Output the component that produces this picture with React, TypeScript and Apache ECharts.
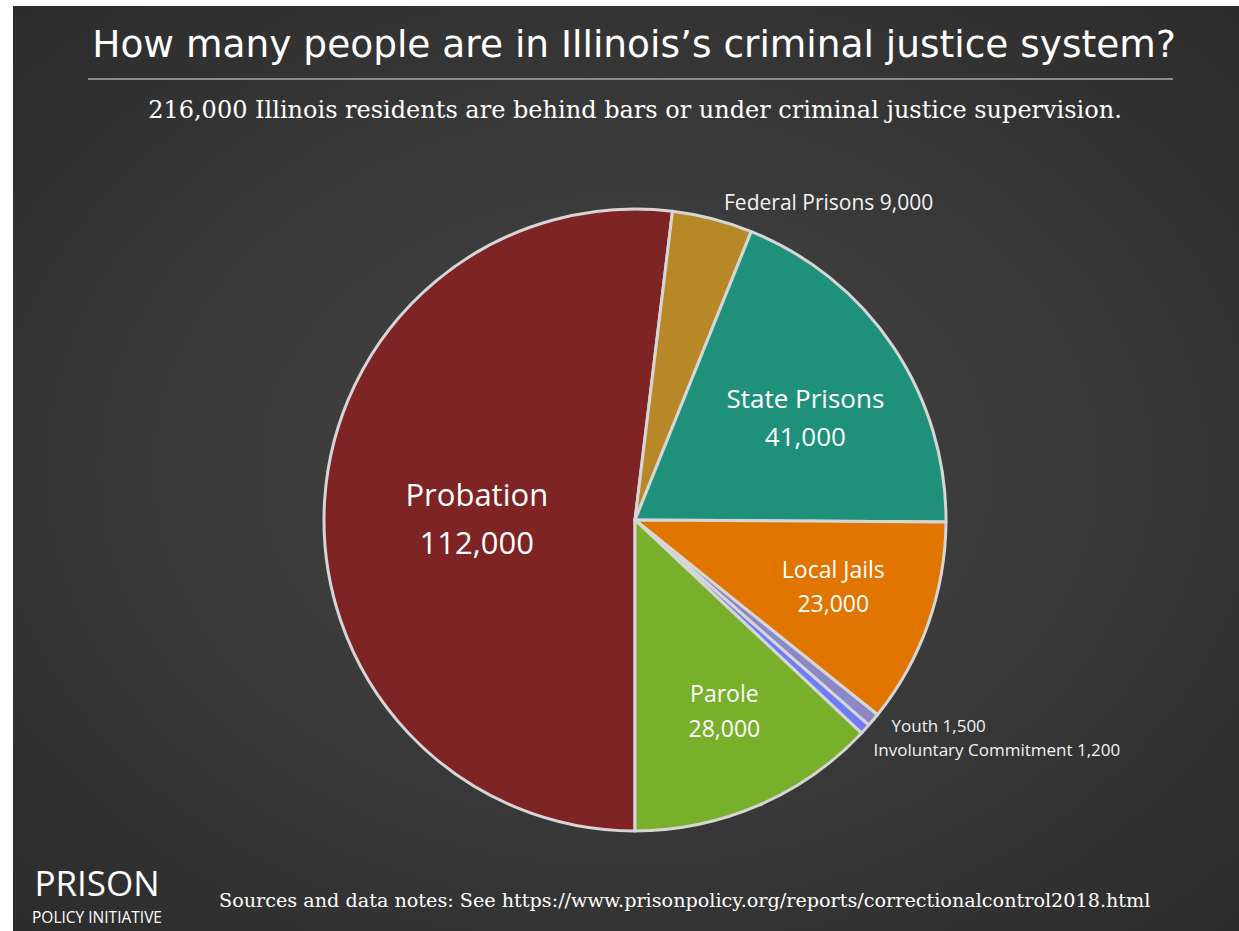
import React, { useEffect, useRef } from "react";
import * as echarts from "echarts";

const TITLE = "How many people are in Illinois’s criminal justice system?";
const SUBTITLE = "216,000 Illinois residents are behind bars or under criminal justice supervision.";
const SOURCE = "Sources and data notes: See https://www.prisonpolicy.org/reports/correctionalcontrol2018.html";

const categories = ["Probation", "Federal Prisons", "State Prisons", "Local Jails", "Youth", "Involuntary Commitment", "Parole"];
const values = [112000, 9000, 41000, 23000, 1500, 1200, 28000];
const colors = ["#7e2425", "#b78828", "#1f917b", "#e07500", "#8c88c8", "#6f7cf7", "#78b02b"];
// label placement kind per category: "main" = inside centre, "ring" = inside further out, "out" = outside
const labelKinds = ["main", "out", "ring", "ring", "out", "out", "ring"];

const fmt = (v: number) => v.toLocaleString("en-US");

export default function App() {
  const ref = useRef<HTMLDivElement>(null);
  useEffect(() => {
    if (!ref.current) return;
    const chart = echarts.init(ref.current, null, { renderer: "svg" });
    const center = [635, 520];
    const R = 311;
    // small per-label nudges (label text styling only)
    const nudges: Record<string, [number, number]> = {
      Probation: [0, 8],
      "Federal Prisons": [0, -7],
      "State Prisons": [0, 11],
      "Local Jails": [5, -3],
      Youth: [-5, -1],
      "Involuntary Commitment": [-8, 3],
      Parole: [8, 2],
    };
    const ringSizes: Record<string, { fs: number; lh: number }> = {
      "State Prisons": { fs: 26, lh: 38 },
      "Local Jails": { fs: 23, lh: 34 },
      Parole: { fs: 23, lh: 35 },
    };
    const mainData = categories.map((name, i) => {
      const kind = labelKinds[i];
      let label: any;
      if (kind === "main") {
        label = {
          show: true,
          position: "inside",
          formatter: (p: any) => `${p.name}\n${fmt(p.value)}`,
          fontSize: 31,
          lineHeight: 48,
          color: "#ffffff",
          fontFamily: "Open Sans",
        };
      } else if (kind === "out") {
        const big = name === "Federal Prisons";
        label = {
          show: true,
          position: "outside",
          formatter: (p: any) => `${p.name} ${fmt(p.value)}`,
          fontSize: big ? 21 : 17,
          lineHeight: big ? 24 : 18,
          color: "#f2f2f2",
          fontFamily: "Open Sans",
        };
      } else {
        label = { show: false };
      }
      return {
        name,
        value: values[i],
        itemStyle: { color: colors[i] },
        label,
        labelLine: { show: false, length: 10, length2: 4 },
      };
    });
    const ringData = categories.map((name, i) => {
      const kind = labelKinds[i];
      const s = ringSizes[name];
      return {
        name,
        value: values[i],
        label:
          kind === "ring"
            ? {
                show: true,
                position: "inside",
                formatter: (p: any) => `${p.name}\n${fmt(p.value)}`,
                fontSize: s.fs,
                lineHeight: s.lh,
                color: "#ffffff",
                fontFamily: "Open Sans",
              }
            : { show: false },
      };
    });
    const labelLayout = (params: any) => {
      const n = nudges[categories[params.dataIndex]];
      return n ? { dx: n[0], dy: n[1] } : {};
    };

    chart.setOption({
      animation: false,
      backgroundColor: "#ffffff",
      graphic: [
        {
          type: "rect",
          z: -10,
          silent: true,
          shape: { x: 13, y: 6, width: 1226, height: 925 },
          style: {
            fill: {
              type: "radial",
              x: 0.5,
              y: 0.5,
              r: 0.7,
              colorStops: [
                { offset: 0, color: "#464646" },
                { offset: 1, color: "#2c2c2c" },
              ],
            },
          },
        },
        {
          type: "text",
          x: 634,
          y: 44,
          style: {
            text: TITLE,
            fill: "#ffffff",
            font: "37.5px 'DejaVu Sans'",
            textAlign: "center",
            textVerticalAlign: "middle",
          },
        },
        {
          type: "line",
          shape: { x1: 88, y1: 79, x2: 1173, y2: 79 },
          style: { stroke: "#8a8a8a", lineWidth: 2 },
        },
        {
          type: "text",
          x: 635,
          y: 110,
          style: {
            text: SUBTITLE,
            fill: "#ffffff",
            font: "24px 'DejaVu Serif'",
            textAlign: "center",
            textVerticalAlign: "middle",
          },
        },
        {
          type: "text",
          x: 97,
          y: 882,
          style: {
            text: "PRISON",
            fill: "#ffffff",
            font: "35px 'Open Sans'",
            textAlign: "center",
            textVerticalAlign: "middle",
          },
        },
        {
          type: "text",
          x: 97,
          y: 917,
          style: {
            text: "POLICY INITIATIVE",
            fill: "#ffffff",
            font: "15.5px 'Open Sans'",
            textAlign: "center",
            textVerticalAlign: "middle",
          },
        },
        {
          type: "text",
          x: 219,
          y: 900,
          style: {
            text: SOURCE,
            fill: "#ffffff",
            font: "19.2px 'DejaVu Serif'",
            textAlign: "left",
            textVerticalAlign: "middle",
          },
        },
      ],
      series: [
        {
          type: "pie",
          center,
          radius: [0, R],
          startAngle: -90,
          clockwise: true,
          avoidLabelOverlap: true,
          itemStyle: { borderColor: "#d6d6d6", borderWidth: 3 },
          emphasis: { disabled: true },
          labelLayout,
          data: mainData,
        },
        {
          type: "pie",
          center,
          radius: [0, R * 1.3],
          startAngle: -90,
          clockwise: true,
          silent: true,
          z: 5,
          itemStyle: { color: "rgba(0,0,0,0)", borderWidth: 0 },
          labelLine: { show: false },
          emphasis: { disabled: true },
          labelLayout,
          data: ringData,
        },
      ],
    });
    return () => chart.dispose();
  }, []);
  return (
    <div
      ref={ref}
      style={{ position: "fixed", left: 0, top: 0, width: 1239, height: 931 }}
    />
  );
}
